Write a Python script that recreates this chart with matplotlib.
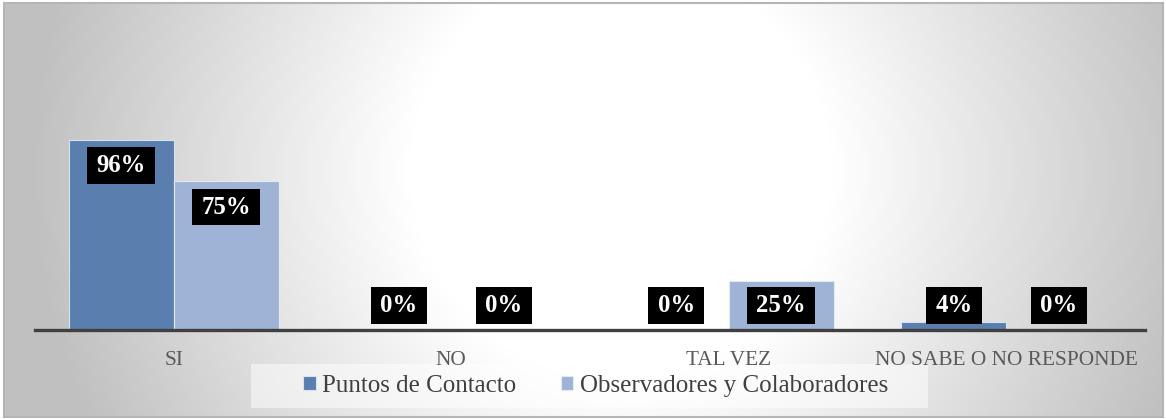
import numpy as np
import matplotlib
matplotlib.use("Agg")
import matplotlib.pyplot as plt
from matplotlib.patches import Rectangle
from matplotlib.path import Path

# data
categories = ["SI", "NO", "TAL VEZ", "NO SABE O NO RESPONDE"]
puntos = [96, 0, 0, 4]
observadores = [75, 0, 25, 0]
series_names = ["Puntos de Contacto", "Observadores y Colaboradores"]

DARK = "#5a7fae"
LIGHT = "#9fb3d6"
W, H = 1166, 419
SERIF = ["Liberation Serif", "DejaVu Serif"]


# black label box, wider padding left/right than top/bottom (like Excel)
def label_box(x0, y0, width, height, mutation_size):
    px = 0.38 * mutation_size
    py = 0.27 * mutation_size
    x0, y0 = x0 - px, y0 - py
    x1, y1 = x0 + width + 2 * px, y0 + height + 2 * py
    return Path([(x0, y0), (x1, y0), (x1, y1), (x0, y1), (x0, y0)], closed=True)


fig = plt.figure(figsize=(W / 100, H / 100), dpi=100)

# background: white frame with a radial grey gradient inside
bg = fig.add_axes([0, 0, 1, 1], zorder=-10)
bg.set_xlim(0, W)
bg.set_ylim(H, 0)
bg.axis("off")
yy, xx = np.mgrid[0:H, 0:W]
d = np.sqrt(((xx - 620) / 560.0) ** 2 + ((yy - 170) / 560.0) ** 2)
g = 255 - 63 * np.clip((d - 0.38) / 0.68, 0, 1)
img = np.dstack([g, g, g]) / 255.0
bg.imshow(img, extent=(4, 1163, 417, 3), aspect="auto", interpolation="bilinear")
bg.add_patch(Rectangle((4, 3), 1159, 414, fill=False, edgecolor="#b5b5b5", lw=1.5))
# legend background strip
bg.add_patch(Rectangle((251, 364), 677, 44, facecolor="white", alpha=0.5, edgecolor="none"))

# main bar axes
ax = fig.add_axes([35 / W, (H - 330) / H, 1110 / W, 237.6 / H])
ax.patch.set_alpha(0)
x = np.arange(len(categories))
bw = 0.378
b1 = ax.bar(x - bw / 2, puntos, bw, color=DARK, edgecolor="#d8e1ee", lw=0.8,
            label=series_names[0], zorder=2)
b2 = ax.bar(x + bw / 2, observadores, bw, color=LIGHT, edgecolor="#e4eaf3", lw=0.8,
            label=series_names[1], zorder=2)
ax.set_xlim(-0.5, 3.5)
ax.set_ylim(0, 120)

for bars, vals in ((b1, puntos), (b2, observadores)):
    for rect, v in zip(bars, vals):
        ax.text(rect.get_x() + rect.get_width() / 2, max(v - 12.9, 12.4), f"{v}%",
                ha="center", va="center", color="white", fontsize=17.8,
                fontweight="bold", family=SERIF, zorder=4,
                bbox=dict(boxstyle=label_box, fc="black", ec="none"))

for s in ("left", "right", "top"):
    ax.spines[s].set_visible(False)
ax.spines["bottom"].set_color("#404040")
ax.spines["bottom"].set_linewidth(2.4)
ax.spines["bottom"].set_zorder(3)
ax.set_yticks([])
ax.set_xticks(x)
ax.set_xticklabels(categories, family=SERIF, fontsize=15.3, color="#595959")
ax.tick_params(axis="x", length=0, pad=15)

leg = fig.legend(handles=[b1, b2], loc="center", bbox_to_anchor=(595.5 / W, (H - 386) / H),
                 ncol=2, frameon=False, handlelength=0.5, handleheight=0.5,
                 handletextpad=0.25, columnspacing=1.8, borderpad=0.0,
                 prop={"family": SERIF, "size": 18})
for t in leg.get_texts():
    t.set_color("#404040")

fig.savefig("out.png", dpi=100)
